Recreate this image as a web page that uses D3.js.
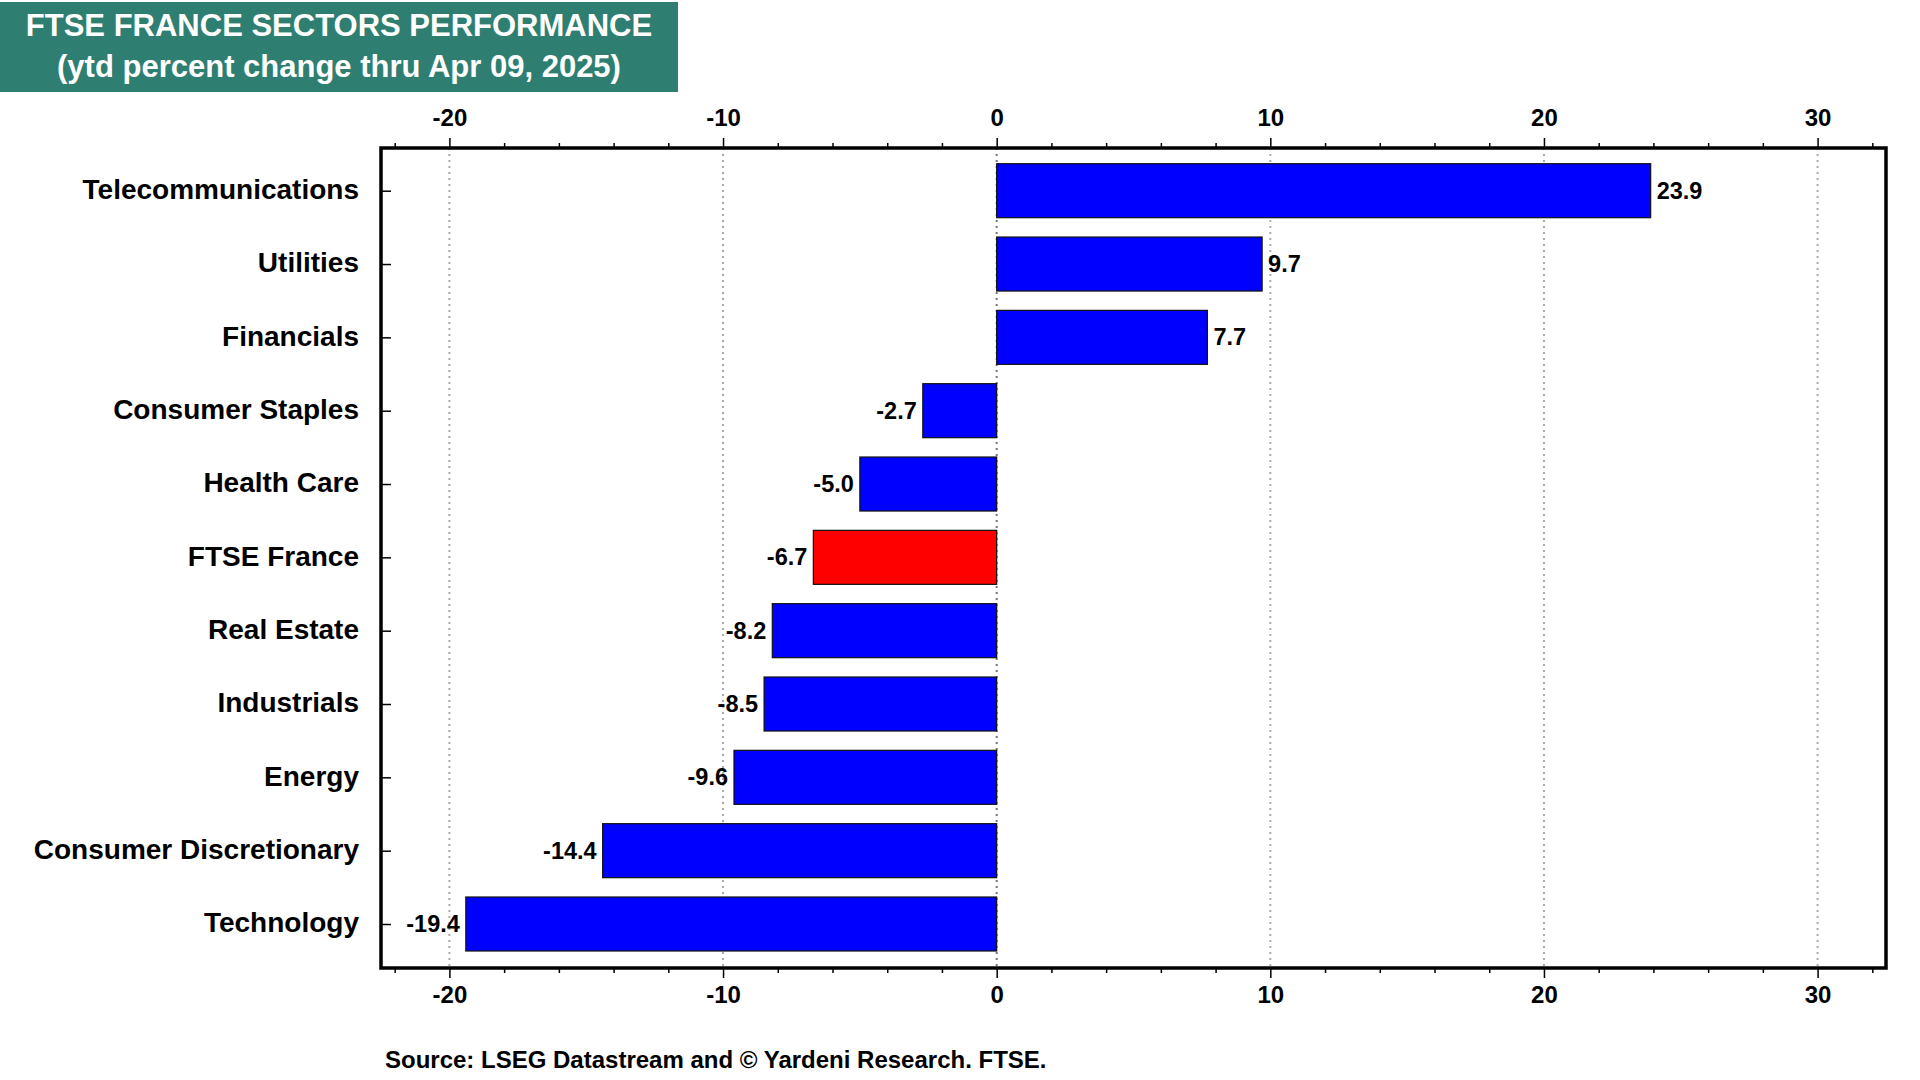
<!DOCTYPE html>
<html>
<head>
<meta charset="utf-8">
<script src="https://cdn.jsdelivr.net/npm/d3@7"></script>
<style>
  body { margin: 0; background: #fff; }
  text { font-family: "Liberation Sans", Arial, sans-serif; font-weight: bold; }
</style>
</head>
<body>
<div id="chartholder"></div>
<script>
// chart data
var categories = ["Telecommunications", "Utilities", "Financials", "Consumer Staples", "Health Care",
                  "FTSE France", "Real Estate", "Industrials", "Energy", "Consumer Discretionary", "Technology"];
var values = [23.9, 9.7, 7.7, -2.7, -5.0, -6.7, -8.2, -8.5, -9.6, -14.4, -19.4];
var majorTicks = [-20, -10, 0, 10, 20, 30];
var titleLines = ["FTSE FRANCE SECTORS PERFORMANCE", "(ytd percent change thru Apr 09, 2025)"];
var sourceNote = "Source: LSEG Datastream and \u00A9 Yardeni Research. FTSE.";
var highlight = "FTSE France";

var svg = d3.select("#chartholder")
            .append("svg")
            .attr("width", 1920)
            .attr("height", 1080);

var frame = {left: 381, top: 148, right: 1886, bottom: 968};

// scales
var x = d3.scaleLinear().domain([-22.5, 32.5]).range([frame.left, frame.right]);
var y = d3.scalePoint().domain(categories).range([190.7, 924]);
var barH = 54;

// minor ticks every 2 units
var minorTicks = d3.range(-22, 33, 2).filter(function(d) { return d % 10 !== 0; });
var fmt = function(d) { return String(d); };

// title box
svg.append("rect")
   .attr("x", 0).attr("y", 2)
   .attr("width", 678).attr("height", 90)
   .attr("fill", "#2f7e72");
svg.selectAll(".title")
   .data(titleLines)
   .enter().append("text")
   .attr("class", "title")
   .attr("x", 339)
   .attr("y", function(d, i) { return 36 + i * 41; })
   .attr("text-anchor", "middle")
   .attr("fill", "#fff")
   .attr("font-size", 31)
   .text(function(d) { return d; });

// gridlines
svg.append("g")
   .selectAll("line")
   .data(majorTicks)
   .enter().append("line")
   .attr("x1", function(d) { return x(d); })
   .attr("x2", function(d) { return x(d); })
   .attr("y1", frame.top)
   .attr("y2", frame.bottom)
   .attr("stroke", function(d) { return d === 0 ? "#777" : "#aaa"; })
   .attr("stroke-width", 2)
   .attr("stroke-dasharray", "2,4");

// bars
svg.append("g")
   .selectAll(".bar")
   .data(values)
   .enter().append("rect")
   .attr("class", "bar")
   .attr("x", function(d) { return x(Math.min(0, d)); })
   .attr("y", function(d, i) { return y(categories[i]) - barH / 2; })
   .attr("width", function(d) { return Math.abs(x(d) - x(0)); })
   .attr("height", barH)
   .attr("fill", function(d, i) { return categories[i] === highlight ? "#ff0000" : "#0000ff"; })
   .attr("stroke", "#111")
   .attr("stroke-width", 1.2);

// value labels
svg.append("g")
   .selectAll("text")
   .data(values)
   .enter().append("text")
   .attr("x", function(d) { return d >= 0 ? x(d) + 6 : x(d) - 6; })
   .attr("y", function(d, i) { return y(categories[i]); })
   .attr("dy", "0.34em")
   .attr("text-anchor", function(d) { return d >= 0 ? "start" : "end"; })
   .attr("font-size", 23.5)
   .attr("fill", "#000")
   .text(function(d) { return d.toFixed(1); });

// frame
svg.append("rect")
   .attr("x", frame.left).attr("y", frame.top)
   .attr("width", frame.right - frame.left)
   .attr("height", frame.bottom - frame.top)
   .attr("fill", "none")
   .attr("stroke", "#000")
   .attr("stroke-width", 3.5);

// top axis
var topAxis = svg.append("g")
   .attr("transform", "translate(0," + frame.top + ")")
   .call(d3.axisTop(x).tickValues(majorTicks).tickSize(10).tickPadding(12).tickFormat(fmt));
svg.append("g")
   .attr("transform", "translate(0," + frame.top + ")")
   .call(d3.axisTop(x).tickValues(minorTicks).tickSize(5).tickFormat(""));

// bottom axis
var bottomAxis = svg.append("g")
   .attr("transform", "translate(0," + frame.bottom + ")")
   .call(d3.axisBottom(x).tickValues(majorTicks).tickSize(10).tickPadding(8).tickFormat(fmt));
svg.append("g")
   .attr("transform", "translate(0," + frame.bottom + ")")
   .call(d3.axisBottom(x).tickValues(minorTicks).tickSize(5).tickFormat(""));

// left axis (ticks point inward)
svg.append("g")
   .attr("transform", "translate(" + frame.left + ",0)")
   .call(d3.axisRight(y).tickSize(10).tickFormat(""));

svg.selectAll(".domain").remove();
svg.selectAll(".tick line").attr("stroke", "#000").attr("stroke-width", 1.5);
[topAxis, bottomAxis].forEach(function(a) {
  a.selectAll("text").attr("font-size", 24).attr("fill", "#000")
   .style("font-family", "'Liberation Sans', Arial, sans-serif").style("font-weight", "bold");
});

// category labels
svg.append("g")
   .selectAll("text")
   .data(categories)
   .enter().append("text")
   .attr("x", 359)
   .attr("y", function(d) { return y(d); })
   .attr("dy", "0.3em")
   .attr("text-anchor", "end")
   .attr("font-size", 28)
   .attr("fill", "#000")
   .text(function(d) { return d; });

// source note
svg.append("text")
   .attr("x", 385)
   .attr("y", 1068)
   .attr("font-size", 24)
   .attr("fill", "#000")
   .text(sourceNote);
</script>
</body>
</html>
